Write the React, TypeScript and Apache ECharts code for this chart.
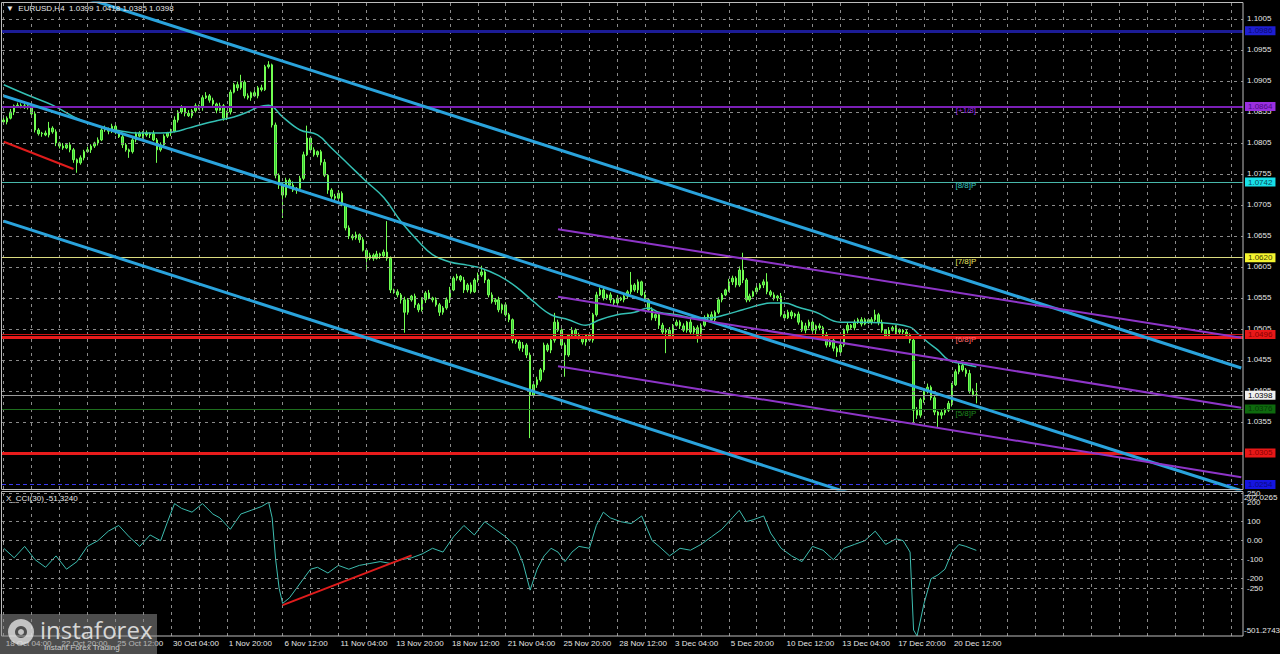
import React, { useEffect, useRef } from 'react';
import * as echarts from 'echarts';

// ---------- DATA ----------
const firstOpen = 1.0842;
const closes: number[] = [
  1.0839,1.0845,1.0855,1.0865,1.0866,1.0865,1.0862,1.0865,1.0852,1.0826,1.0820,1.0821,1.0818,1.0829,1.0823,1.0805,1.0800,1.0797,1.0802,1.0794,
  1.0778,1.0773,1.0781,1.0791,1.0794,1.0800,1.0805,1.0810,1.0826,1.0828,1.0824,1.0832,1.0823,1.0815,1.0802,1.0794,1.0791,1.0810,1.0820,1.0816,
  1.0821,1.0818,1.0820,1.0810,1.0794,1.0802,1.0816,1.0821,1.0824,1.0842,1.0855,1.0862,1.0853,1.0849,1.0857,1.0865,1.0862,1.0878,1.0881,1.0874,
  1.0868,1.0858,1.0865,1.0845,1.0855,1.0887,1.0899,1.0894,1.0903,1.0881,1.0878,1.0886,1.0881,1.0894,1.0891,1.0928,1.0931,1.0834,1.0753,1.0737,
  1.0721,1.0745,1.0737,1.0729,1.0732,1.0748,1.0786,1.0813,1.0794,1.0786,1.0791,1.0774,1.0753,1.0729,1.0719,1.0716,1.0724,1.0705,1.0668,1.0655,
  1.0652,1.0657,1.0649,1.0632,1.0619,1.0624,1.0619,1.0626,1.0623,1.0629,1.0619,1.0568,1.0565,1.0560,1.0552,1.0532,1.0552,1.0558,1.0544,1.0536,
  1.0552,1.0563,1.0555,1.0552,1.0544,1.0532,1.0539,1.0552,1.0568,1.0587,1.0590,1.0584,1.0568,1.0576,1.0565,1.0584,1.0592,1.0597,1.0584,1.0560,
  1.0549,1.0552,1.0536,1.0544,1.0528,1.0520,1.0487,1.0484,1.0474,1.0479,1.0463,1.0398,1.0415,1.0423,1.0439,1.0479,1.0471,1.0487,1.0516,1.0503,
  1.0479,1.0463,1.0495,1.0503,1.0495,1.0491,1.0484,1.0495,1.0487,1.0528,1.0560,1.0568,1.0555,1.0560,1.0552,1.0547,1.0555,1.0552,1.0558,1.0565,
  1.0576,1.0568,1.0581,1.0560,1.0552,1.0536,1.0523,1.0528,1.0511,1.0500,1.0503,1.0494,1.0511,1.0516,1.0510,1.0503,1.0516,1.0500,1.0507,1.0495,
  1.0511,1.0523,1.0528,1.0520,1.0532,1.0552,1.0560,1.0568,1.0581,1.0587,1.0576,1.0600,1.0584,1.0552,1.0558,1.0565,1.0571,1.0576,1.0581,1.0565,
  1.0560,1.0555,1.0558,1.0528,1.0523,1.0532,1.0526,1.0529,1.0516,1.0503,1.0510,1.0516,1.0503,1.0510,1.0507,1.0495,1.0479,1.0487,1.0474,1.0468,
  1.0479,1.0503,1.0511,1.0507,1.0516,1.0520,1.0513,1.0520,1.0516,1.0520,1.0528,1.0516,1.0503,1.0494,1.0503,1.0507,1.0500,1.0503,1.0500,1.0495,
  1.0487,1.0374,1.0366,1.0391,1.0404,1.0411,1.0394,1.0371,1.0366,1.0370,1.0374,1.0385,1.0415,1.0436,1.0446,1.0439,1.0433,1.0405,1.0399,1.0398,
];
const upWickPips: number[] = [
  4,3,5,2,4,3,5,2,3,4,3,2,4,10,3,4,2,5,3,4,
  3,2,4,3,5,3,2,4,3,5,2,4,3,2,4,3,2,5,3,4,
  3,4,2,5,3,4,3,2,4,6,3,4,2,5,3,4,2,4,6,3,
  4,2,5,3,2,4,3,5,12,3,4,2,4,3,5,3,6,2,4,3,
  5,4,3,6,2,4,5,20,3,4,2,3,5,2,3,4,5,3,2,4,
  3,5,2,4,3,4,3,5,2,4,50,3,2,4,3,5,3,2,4,3,
  4,3,5,2,4,3,3,4,5,3,4,2,5,3,4,3,4,10,3,2,
  4,3,5,2,4,3,2,4,3,5,3,4,2,5,3,4,3,2,15,4,
  3,4,2,5,3,4,3,2,4,3,5,4,3,2,4,3,5,2,4,3,
  21,3,4,2,5,3,4,2,3,4,3,5,2,4,3,4,2,5,3,4,
  3,4,2,5,3,4,3,2,5,4,3,6,28,3,4,2,5,3,4,14,
  3,4,2,5,3,4,3,2,4,3,5,4,3,2,4,3,5,2,4,3,
  4,3,5,2,4,3,4,3,2,4,8,3,4,2,5,3,4,3,2,4,
  3,4,5,3,4,6,3,4,2,5,3,4,3,4,4,5,3,6,4,19,
];
const downWickPips: number[] = [
  3,4,2,5,3,4,2,3,5,4,3,5,2,4,3,5,4,3,2,4,
  5,16,3,4,2,5,3,4,2,3,5,3,4,2,5,3,10,3,4,2,
  4,3,5,2,21,3,4,3,5,2,4,3,5,2,4,3,3,5,2,4,
  3,5,2,4,3,4,2,5,3,4,3,5,2,4,3,2,3,4,5,6,
  37,4,5,3,6,4,3,2,5,3,4,5,3,6,4,3,5,2,4,5,
  4,3,5,2,19,3,4,2,5,3,4,5,3,4,6,33,4,3,5,4,
  3,5,2,4,3,6,4,3,5,2,4,3,5,4,3,2,4,3,5,4,
  3,5,4,6,3,4,5,3,4,6,5,69,4,5,3,4,3,5,4,3,
  4,35,3,4,5,3,4,6,3,4,3,2,4,3,5,4,3,2,4,3,
  4,3,5,2,4,3,4,5,6,4,34,3,4,2,5,3,4,3,5,12,
  4,3,5,2,4,3,4,2,3,5,4,3,5,4,3,2,4,3,5,4,
  3,4,5,3,4,2,5,3,4,3,5,4,3,6,4,5,4,3,5,8,
  4,3,5,2,4,3,4,2,3,4,3,5,4,3,5,2,4,3,5,4,
  5,20,6,4,5,3,4,5,19,6,4,3,5,2,4,3,5,4,3,13,
];

const timeLabels = ['18 Oct 04:00','22 Oct 20:00','25 Oct 12:00','30 Oct 04:00','1 Nov 20:00','6 Nov 12:00','11 Nov 04:00','13 Nov 20:00','18 Nov 12:00','21 Nov 04:00','25 Nov 20:00','28 Nov 12:00','3 Dec 04:00','5 Dec 20:00','10 Dec 12:00','13 Dec 04:00','17 Dec 20:00','20 Dec 12:00'];
const LABEL_STEP = 16;
const GRID_STEP = 8;
const TOTAL_SLOTS = 356;

const priceTicks = [1.1005,1.0955,1.0905,1.0855,1.0805,1.0755,1.0705,1.0655,1.0605,1.0555,1.0505,1.0455,1.0405,1.0355,1.0305,1.0255];
const levelValues = [1.0986,1.0864,1.0742,1.0620,1.0496,1.0491,1.0398,1.0376,1.0305,1.0254];

const murrayTags = ['[+1/8]','[8/8]P','[7/8]P','[6/8]P','[5/8]P'];
const murrayTagPrices = [1.0857,1.0736,1.0614,1.0488,1.0368];
const murrayTagBar = 276;

const maPoints: number[][] = [
  [0,1.0899],[7,1.0882],[14,1.0866],[22,1.0842],[28,1.0831],[32,1.0826],[39,1.0821],[45,1.0821],[49,1.0823],[53,1.0829],
  [58,1.0837],[62,1.0842],[66,1.0847],[70,1.0855],[73,1.0863],[76,1.0866],[80,1.0847],[85,1.0826],[90,1.0818],[94,1.0797],
  [99,1.0770],[104,1.0743],[109,1.0717],[114,1.0678],[119,1.0646],[123,1.0625],[128,1.0613],[133,1.0608],[137,1.0603],[142,1.0591],
  [147,1.0573],[152,1.0549],[157,1.0528],[162,1.0520],[167,1.0511],[171,1.0520],[176,1.0528],[181,1.0532],[185,1.0539],[188,1.0532],
  [193,1.0528],[198,1.0523],[203,1.0523],[207,1.0528],[212,1.0536],[217,1.0544],[220,1.0547],[224,1.0547],[228,1.0540],[233,1.0532],
  [240,1.0516],[245,1.0516],[252,1.0515],[260,1.0508],[262,1.0499],[265,1.0484],[268,1.0471],[271,1.0455],[274,1.0450],[279,1.0444],
];

const cciPoints: number[][] = [
  [0,-40],[3,-90],[6,-30],[9,-100],[12,-140],[15,-80],[18,-150],[21,-110],[24,-30],[27,0],
  [30,50],[33,80],[36,20],[39,-30],[42,30],[45,0],[47,100],[49,195],[51,170],[54,150],
  [57,195],[60,140],[62,120],[65,60],[68,140],[71,160],[74,180],[76,202],[77,120],[78,-100],
  [79,-250],[80,-330],[82,-300],[84,-250],[86,-200],[88,-150],[90,-140],[93,-170],[96,-130],[99,-150],
  [102,-130],[105,-120],[108,-110],[111,-120],[114,-100],[117,-90],[120,-70],[123,-40],[126,-60],[129,20],
  [132,80],[135,30],[138,100],[141,60],[144,20],[147,-30],[149,-120],[151,-260],[153,-150],[155,-80],
  [157,-40],[159,-60],[161,-110],[163,-60],[165,-30],[168,-40],[170,80],[172,150],[174,120],[177,100],
  [180,90],[183,130],[186,0],[188,-30],[191,-80],[194,-40],[197,-50],[200,-20],[203,20],[206,60],
  [209,120],[211,160],[213,100],[215,110],[218,130],[220,40],[223,-40],[226,-80],[229,-110],[232,-30],
  [235,-50],[238,-100],[241,-40],[244,-20],[247,0],[250,50],[253,-20],[256,10],[258,0],[260,-60],
  [261,-470],[262,-501],[264,-330],[266,-200],[268,-180],[270,-150],[272,-60],[274,-20],[276,-30],[279,-51],
];
const cciLevels = [250,200,100,0,-100,-200,-250];
const cciMaxLabel = '202.0265';
const cciMinLabel = '-501.2743';
const cciLast = '-51.3240';

const blueChannel: number[][][] = [
  [[0,1.1081],[355,1.0442]],
  [[0,1.0881],[355,1.0244]],
  [[0,1.0679],[355,1.0037]],
];
const purpleChannel: number[][][] = [
  [[159,1.0666],[355,1.0491]],
  [[159,1.0557],[355,1.0378]],
  [[159,1.0445],[355,1.0266]],
];
const priceTrend: number[][] = [[0,1.0807],[20,1.0763]];
const cciTrend: number[][] = [[80,-339],[117,-77]];

// ---------- STYLES ----------
const FONT = "'Liberation Sans', 'DejaVu Sans', sans-serif";
const levelStyles = [
  { line: '#1c1c96', w: 3, dash: false, bg: '#1e1ed2', fg: '#0a0a70' },
  { line: '#7a1fb5', w: 2, dash: false, bg: '#9a2fe0', fg: '#4a0a80' },
  { line: '#48b8aa', w: 1, dash: false, bg: '#18e0e8', fg: '#0b4a55' },
  { line: '#dcdc80', w: 1, dash: false, bg: '#f4f430', fg: '#404000' },
  { line: '#c81414', w: 1, dash: false, bg: '#e81818', fg: '#8a0000' },
  { line: '#e81c1c', w: 3, dash: false, bg: '', fg: '' },
  { line: '#9a9a9a', w: 1, dash: false, bg: '#f0f0f0', fg: '#000000' },
  { line: '#1e6e1e', w: 1, dash: false, bg: '#0e6a0e', fg: '#063806' },
  { line: '#e81c1c', w: 3, dash: false, bg: '#e81818', fg: '#8a0000' },
  { line: '#3a3af0', w: 1, dash: true, bg: '#1515e0', fg: '#0a0a80' },
];
const tagColors = ['#9a2fe0', '#3cc8c0', '#e8e860', '#ff6a6a', '#1f8a1f'];

export default function App() {
  const ref = useRef<HTMLDivElement>(null);
  useEffect(() => {
    document.body.style.margin = '0';
    document.body.style.background = '#000';
    const chart = echarts.init(ref.current as HTMLDivElement, undefined, { renderer: 'svg' });

    const cats = Array.from({ length: TOTAL_SLOTS }, (_, i) => String(i));
    const isLabel = (i: number) => i % LABEL_STEP === 0 && i / LABEL_STEP < timeLabels.length;
    const gridBars: number[] = [];
    for (let i = 0; i < TOTAL_SLOTS; i += GRID_STEP) gridBars.push(i);
    const vLines = gridBars.map((i) => ({ xAxis: i }));

    const candleData = closes.map((c, i) => {
      const o = i === 0 ? firstOpen : closes[i - 1];
      const h = Math.max(o, c) + upWickPips[i] / 10000;
      const l = Math.min(o, c) - downWickPips[i] / 10000;
      return [o, c, +l.toFixed(5), +h.toFixed(5)];
    });
    const last = candleData[candleData.length - 1];

    const dashed = { color: '#8a8a8a', width: 1, type: [3, 4] };

    const lineSeries = (data: number[][], color: string, width: number, xi: number, z: number) => ({
      type: 'line', xAxisIndex: xi, yAxisIndex: xi, data, symbol: 'none', silent: true, z,
      lineStyle: { color, width }, animation: false,
    });

    const option: any = {
      animation: false,
      backgroundColor: '#000000',
      grid: [
        { left: 2, top: 3, width: 1241, height: 486 },
        { left: 2, top: 492, width: 1241, height: 144 },
      ],
      xAxis: [
        { type: 'category', gridIndex: 0, data: cats, axisLine: { show: false }, axisTick: { show: false }, axisLabel: { show: false }, splitLine: { show: false } },
        {
          type: 'category', gridIndex: 1, data: cats, axisLine: { show: false },
          axisTick: { show: true, alignWithLabel: true, interval: (i: number) => isLabel(i), length: 4, lineStyle: { color: '#c8c8c8' } },
          axisLabel: {
            show: true, interval: (i: number) => isLabel(i), formatter: (_v: string, i: number) => (isLabel(i) ? timeLabels[i / LABEL_STEP] : ''),
            align: 'left', color: '#e6e6e6', fontSize: 8, fontFamily: FONT, margin: 3, padding: [0, 0, 0, 2],
          },
          splitLine: { show: false },
        },
      ],
      yAxis: [
        { type: 'value', gridIndex: 0, min: 1.02469, max: 1.10308, show: false },
        { type: 'value', gridIndex: 1, min: -501.2743, max: 256, show: false },
      ],
      series: [
        {
          type: 'line', xAxisIndex: 0, yAxisIndex: 0, data: [], z: 1, silent: true,
          markLine: {
            silent: true, precision: 5, symbol: ['none', 'none'], animation: false, lineStyle: dashed, label: { show: false },
            data: [
              ...priceTicks.map((v) => ({ yAxis: v, label: { show: true, position: 'end', formatter: v.toFixed(4), color: '#e6e6e6', fontSize: 8, fontFamily: FONT, distance: 4 } })),
              ...vLines,
            ],
          },
        },
        {
          type: 'candlestick', xAxisIndex: 0, yAxisIndex: 0, data: candleData, barWidth: 2, z: 3, silent: true,
          itemStyle: { color: '#39cc39', color0: '#39cc39', borderColor: '#72ff52', borderColor0: '#72ff52', borderWidth: 1 },
        },
        { type: 'line', xAxisIndex: 0, yAxisIndex: 0, data: maPoints, smooth: 0.4, symbol: 'none', silent: true, z: 4, lineStyle: { color: '#34c0b4', width: 1.5 } },
        {
          type: 'line', xAxisIndex: 0, yAxisIndex: 0, data: [], z: 6, silent: true,
          markLine: {
            silent: true, precision: 5, symbol: ['none', 'none'], animation: false,
            data: levelValues.map((v, k) => ({
              yAxis: v,
              lineStyle: { color: levelStyles[k].line, width: levelStyles[k].w, type: levelStyles[k].dash ? [4, 3] : 'solid' },
              label: levelStyles[k].bg
                ? { show: true, position: 'end', formatter: v.toFixed(4), color: levelStyles[k].fg, backgroundColor: levelStyles[k].bg, padding: [1, 3, 0, 3], fontSize: 8, fontFamily: FONT, distance: 2 }
                : { show: false },
            })),
          },
        },
        ...blueChannel.map((seg) => lineSeries(seg, '#2aa3dc', 3, 0, 5)),
        ...purpleChannel.map((seg) => lineSeries(seg, '#8e35c8', 2, 0, 5)),
        lineSeries(priceTrend, '#e01c1c', 2, 0, 5),
        {
          type: 'scatter', xAxisIndex: 0, yAxisIndex: 0, symbol: 'circle', symbolSize: 0, itemStyle: { color: 'rgba(0,0,0,0)' }, z: 8, silent: true,
          data: murrayTagPrices.map((p, k) => ({ value: [murrayTagBar, p], label: { color: tagColors[k] } })),
          label: { show: true, position: 'inside', formatter: (p: any) => murrayTags[p.dataIndex], fontSize: 8, fontFamily: FONT, opacity: 1 },
        },
        {
          type: 'line', xAxisIndex: 1, yAxisIndex: 1, data: [], z: 1, silent: true,
          markLine: {
            silent: true, precision: 4, symbol: ['none', 'none'], animation: false, lineStyle: dashed, label: { show: false },
            data: [
              ...cciLevels.map((v) => ({ yAxis: v, label: { show: true, position: 'end', formatter: v === 0 ? '0.00' : String(v), color: '#e6e6e6', fontSize: 8, fontFamily: FONT, distance: 4 } })),
              ...vLines,
            ],
          },
        },
        lineSeries(cciPoints, '#3dbdb0', 1, 1, 4),
        lineSeries(cciTrend, '#e01c1c', 2, 1, 5),
      ],
      graphic: [
        { type: 'rect', z: 50, silent: true, shape: { x: 1.5, y: 2.5, width: 1241.5, height: 487 }, style: { fill: 'none', stroke: '#bdbdbd', lineWidth: 1 } },
        { type: 'rect', z: 50, silent: true, shape: { x: 1.5, y: 491.5, width: 1241.5, height: 144.5 }, style: { fill: 'none', stroke: '#bdbdbd', lineWidth: 1 } },
        {
          type: 'text', z: 60, x: 6, y: 4, silent: true,
          style: { text: '▼  EURUSD,H4  ' + [last[0], last[3], last[2], last[1]].map((v) => v.toFixed(4)).join(' '), fill: '#e8e8e8', fontSize: 8, fontFamily: FONT, verticalAlign: 'top' },
        },
        { type: 'text', z: 60, x: 6, y: 494, silent: true, style: { text: 'X_CCI(30) ' + cciLast, fill: '#e8e8e8', fontSize: 8, fontFamily: FONT, verticalAlign: 'top' } },
        { type: 'text', z: 60, x: 1244, y: 497, silent: true, style: { text: cciMaxLabel, fill: '#e6e6e6', fontSize: 8, fontFamily: FONT, verticalAlign: 'middle' } },
        { type: 'text', z: 60, x: 1244, y: 630, silent: true, style: { text: cciMinLabel, fill: '#e6e6e6', fontSize: 8, fontFamily: FONT, verticalAlign: 'middle' } },
        { type: 'rect', z: 70, silent: true, shape: { x: 0, y: 614, width: 157, height: 40 }, style: { fill: 'rgba(140,140,140,0.55)' } },
        { type: 'ring', z: 71, silent: true, shape: { cx: 21, cy: 632, r: 13, r0: 6 }, style: { fill: 'rgba(235,235,235,0.75)' } },
        { type: 'circle', z: 71, silent: true, shape: { cx: 21, cy: 632, r: 3 }, style: { fill: 'rgba(235,235,235,0.75)' } },
        { type: 'text', z: 71, x: 40, y: 617, silent: true, style: { text: 'instaforex', fill: 'rgba(240,240,240,0.85)', fontSize: 24, fontFamily: "'Open Sans', sans-serif", verticalAlign: 'top' } },
        { type: 'text', z: 71, x: 44, y: 643, silent: true, style: { text: 'Instant Forex Trading', fill: 'rgba(235,235,235,0.8)', fontSize: 8, fontFamily: FONT, verticalAlign: 'top' } },
      ],
    };
    chart.setOption(option);
    return () => chart.dispose();
  }, []);
  return <div ref={ref} style={{ width: 1280, height: 654, background: '#000' }} />;
}
